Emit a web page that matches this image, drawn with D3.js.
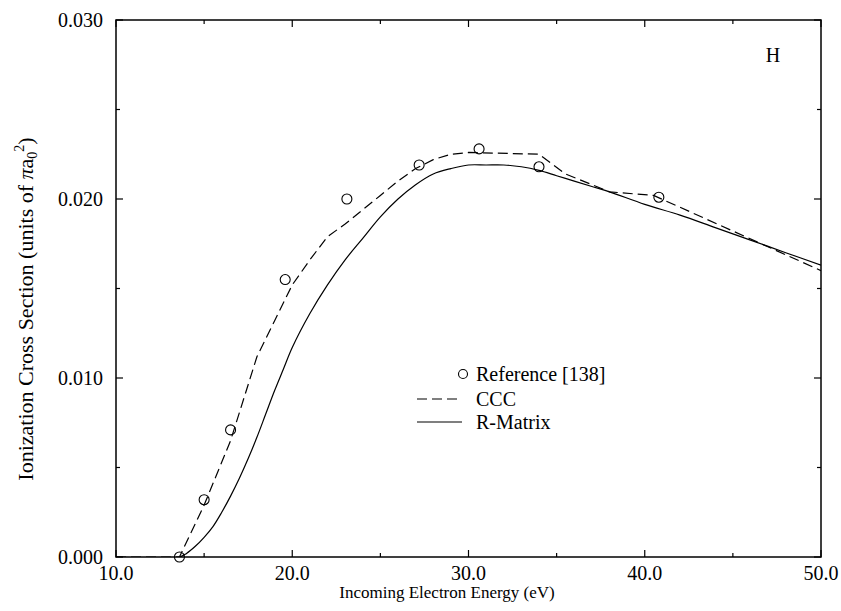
<!DOCTYPE html>
<html>
<head>
<meta charset="utf-8">
<script src="https://cdn.jsdelivr.net/npm/d3@7"></script>
<style>
  html, body { margin: 0; padding: 0; background: #fff; }
  svg { display: block; font-family: "Liberation Serif", "Times New Roman", serif; }
</style>
</head>
<body>
<svg id="chart" width="841" height="611"></svg>
<script>
// Experimental ionization cross sections (energy in eV, cross section in units of pi a0^2)
const refEnergy = [13.6, 15.0, 16.5, 19.6, 23.1, 27.2, 30.6, 34.0, 40.8];
const refSigma  = [0.0000, 0.0032, 0.0071, 0.0155, 0.0200, 0.0219, 0.0228, 0.0218, 0.0201];

// CCC calculation
const cccEnergy = [10.0, 13.6, 15.0, 16.5, 18.0, 19.0, 20.0, 21.0, 22.0, 23.0, 24.0, 25.0, 26.0, 27.0, 28.0, 29.0, 30.0, 34.0, 35.5, 38.0, 40.5, 50.0];
const cccSigma  = [0.0000, 0.0000, 0.0029, 0.0065, 0.0112, 0.0132, 0.0152, 0.0166, 0.0179, 0.0186, 0.0194, 0.0202, 0.0210, 0.0217, 0.0222, 0.0225, 0.0226, 0.0225, 0.0214, 0.0204, 0.0202, 0.0160];

// R-Matrix calculation
const rmEnergy = [10.0, 13.6, 14.0, 14.5, 15.0, 15.5, 16.0, 16.5, 17.0, 17.5, 18.0, 18.5, 19.0, 19.5, 20.0, 21.0, 22.0, 23.0, 24.0, 25.0, 26.0, 27.0, 28.0, 29.0, 30.0, 31.0, 32.0, 33.0, 34.0, 35.0, 36.0, 37.0, 38.0, 40.0, 42.0, 44.0, 46.0, 48.0, 50.0];
const rmSigma  = [0.0000, 0.0000, 0.0002, 0.0006, 0.0011, 0.0017, 0.0025, 0.0034, 0.0044, 0.0055, 0.0067, 0.0080, 0.0093, 0.0105, 0.0117, 0.0136, 0.0152, 0.0166, 0.0178, 0.0190, 0.0200, 0.0208, 0.0214, 0.0217, 0.0219, 0.0219, 0.0219, 0.0218, 0.0216, 0.0213, 0.0210, 0.0207, 0.0204, 0.0197, 0.0191, 0.0184, 0.0177, 0.0170, 0.0163];

// Axis ticks
const xMajorTicks = [10, 20, 30, 40, 50];
const xMinorTicks = [15, 25, 35, 45];
const yMajorTicks = [0.000, 0.010, 0.020, 0.030];
const yMinorTicks = [0.005, 0.015, 0.025];

const legendLabels = ["Reference [138]", "CCC", "R-Matrix"];

const svg = d3.select("#chart");
const plot = { left: 116, right: 821, top: 20, bottom: 557 };

const x = d3.scaleLinear().domain([10, 50]).range([plot.left, plot.right]);
const y = d3.scaleLinear().domain([0, 0.030]).range([plot.bottom, plot.top]);

svg.append("defs").append("clipPath").attr("id", "plotClip")
  .append("rect")
  .attr("x", plot.left).attr("y", plot.top)
  .attr("width", plot.right - plot.left).attr("height", plot.bottom - plot.top);

const zip = (xs, ys) => xs.map((v, i) => [v, ys[i]]);

const line = d3.line()
  .x(d => x(d[0]))
  .y(d => y(d[1]));

const curve = d3.line()
  .x(d => x(d[0]))
  .y(d => y(d[1]))
  .curve(d3.curveCatmullRom.alpha(0.5));

const g = svg.append("g").attr("clip-path", "url(#plotClip)");

// R-Matrix (solid, smooth)
g.append("path")
  .datum(zip(rmEnergy, rmSigma))
  .attr("d", curve)
  .attr("fill", "none")
  .attr("stroke", "#000")
  .attr("stroke-width", 1.2);

// CCC (dashed)
g.append("path")
  .datum(zip(cccEnergy, cccSigma))
  .attr("d", line)
  .attr("fill", "none")
  .attr("stroke", "#000")
  .attr("stroke-width", 1.2)
  .attr("stroke-dasharray", "10,5");

// Experimental points
svg.append("g").selectAll("circle")
  .data(zip(refEnergy, refSigma))
  .join("circle")
  .attr("cx", d => x(d[0]))
  .attr("cy", d => y(d[1]))
  .attr("r", 5)
  .attr("fill", "none")
  .attr("stroke", "#000")
  .attr("stroke-width", 1.1);

// Frame
svg.append("rect")
  .attr("x", plot.left).attr("y", plot.top)
  .attr("width", plot.right - plot.left).attr("height", plot.bottom - plot.top)
  .attr("fill", "none").attr("stroke", "#000").attr("stroke-width", 1.5);

// Inward ticks on all four sides
const majorLen = 7, minorLen = 4;
const axes = svg.append("g").attr("stroke", "#000").attr("stroke-width", 1.2);
function xTicks(vals, len) {
  vals.forEach(v => {
    axes.append("line").attr("x1", x(v)).attr("x2", x(v)).attr("y1", plot.bottom).attr("y2", plot.bottom - len);
    axes.append("line").attr("x1", x(v)).attr("x2", x(v)).attr("y1", plot.top).attr("y2", plot.top + len);
  });
}
function yTicks(vals, len) {
  vals.forEach(v => {
    axes.append("line").attr("y1", y(v)).attr("y2", y(v)).attr("x1", plot.left).attr("x2", plot.left + len);
    axes.append("line").attr("y1", y(v)).attr("y2", y(v)).attr("x1", plot.right).attr("x2", plot.right - len);
  });
}
xTicks(xMajorTicks, majorLen);
xTicks(xMinorTicks, minorLen);
yTicks(yMajorTicks, majorLen);
yTicks(yMinorTicks, minorLen);

// Tick labels
const tickFont = 20;
svg.append("g").selectAll("text")
  .data(xMajorTicks)
  .join("text")
  .attr("x", d => x(d))
  .attr("y", 580)
  .attr("text-anchor", "middle")
  .attr("font-size", tickFont)
  .text(d => d.toFixed(1));

svg.append("g").selectAll("text")
  .data(yMajorTicks)
  .join("text")
  .attr("x", 103)
  .attr("y", d => y(d) + 7)
  .attr("text-anchor", "end")
  .attr("font-size", tickFont)
  .text(d => d.toFixed(3));

// Axis titles
svg.append("text")
  .attr("x", 447).attr("y", 598)
  .attr("text-anchor", "middle")
  .attr("font-size", 17)
  .text("Incoming Electron Energy (eV)");

const yTitle = svg.append("text")
  .attr("transform", "translate(33,309) rotate(-90)")
  .attr("text-anchor", "middle")
  .attr("font-size", 22);
yTitle.append("tspan").text("Ionization Cross Section (units of ");
yTitle.append("tspan").attr("font-style", "italic").text("\u03C0");
yTitle.append("tspan").text("a");
yTitle.append("tspan").attr("font-size", 14).attr("dy", 4).text("0");
yTitle.append("tspan").attr("font-size", 14).attr("dy", -13).text("2");
yTitle.append("tspan").attr("dy", 9).text(")");

// Panel label
svg.append("text")
  .attr("x", 773).attr("y", 62)
  .attr("text-anchor", "middle")
  .attr("font-size", 20)
  .text("H");

// Legend
const lg = svg.append("g");
const legX = 476, legRows = [374, 399, 422];
lg.append("circle").attr("cx", 463).attr("cy", legRows[0]).attr("r", 4.5)
  .attr("fill", "none").attr("stroke", "#000").attr("stroke-width", 1.1);
lg.append("line").attr("x1", 417).attr("x2", 462).attr("y1", legRows[1]).attr("y2", legRows[1])
  .attr("stroke", "#000").attr("stroke-width", 1.2).attr("stroke-dasharray", "10,5");
lg.append("line").attr("x1", 417).attr("x2", 462).attr("y1", legRows[2]).attr("y2", legRows[2])
  .attr("stroke", "#000").attr("stroke-width", 1.2);
lg.selectAll("text")
  .data(legendLabels)
  .join("text")
  .attr("x", legX)
  .attr("y", (d, i) => legRows[i] + 6.5)
  .attr("font-size", 20)
  .text(d => d);
</script>
</body>
</html>
